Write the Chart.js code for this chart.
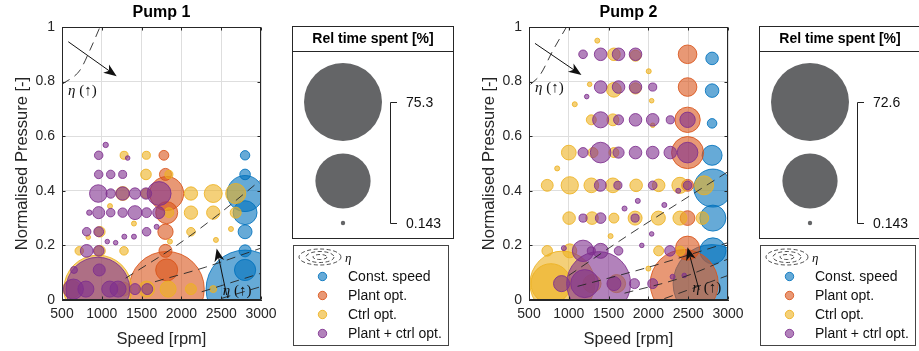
<!DOCTYPE html>
<html>
<head>
<meta charset="utf-8">
<script src="https://cdn.jsdelivr.net/npm/chart.js@4.4.1/dist/chart.umd.min.js"></script>
<style>
  html, body { margin: 0; padding: 0; background: #fff; overflow: hidden; width: 919px; height: 351px; }
  .wrap { position: absolute; top: 0; width: 460px; height: 351px; }
  #w1 { left: 0; }
  #w2 { left: 467px; }
</style>
</head>
<body>
<div class="wrap" id="w1"><canvas id="c1" width="460" height="351"></canvas></div>
<div class="wrap" id="w2"><canvas id="c2" width="460" height="351"></canvas></div>
<script>
// --- Dados: [rpm, pressão normalizada, tempo relativo %] ---
const seriesNames = ['Const. speed', 'Plant opt.', 'Ctrl opt.', 'Plant + ctrl opt.'];

const p1Const = [
  [2800, 0.04, 75.3], [2800, 0.11, 5.5], [2800, 0.18, 1.7], [2800, 0.25, 2.3],
  [2800, 0.32, 7.0], [2800, 0.39, 16.0], [2800, 0.46, 1.3], [2800, 0.53, 1.0]
];
const p1Plant = [
  [1780, 0.53, 1.1], [1800, 0.46, 1.7], [1815, 0.39, 14.2], [1815, 0.32, 5.9],
  [1800, 0.25, 2.8], [1800, 0.18, 2.0], [1815, 0.11, 5.9], [1815, 0.04, 70.0]
];
const p1Ctrl = [
  [1280, 0.53, 0.7], [1560, 0.53, 0.7], [1555, 0.46, 1.3], [1843, 0.46, 0.7],
  [1262, 0.39, 2.3], [1560, 0.39, 1.1], [2120, 0.39, 2.1], [2400, 0.39, 3.9], [2682, 0.39, 4.9],
  [1103, 0.344, 0.21], [1843, 0.32, 1.1], [2120, 0.32, 2.1], [2400, 0.32, 2.1], [2682, 0.32, 1.4],
  [1404, 0.28, 0.21], [830, 0.23, 0.16], [975, 0.25, 1.3], [2120, 0.25, 0.8], [2623, 0.26, 0.21],
  [1856, 0.214, 0.21], [2434, 0.22, 0.21], [717, 0.18, 0.8], [975, 0.18, 1.4], [1279, 0.18, 0.8],
  [950, 0.04, 57.0], [620, 0.04, 3.9], [1270, 0.04, 2.3], [1563, 0.04, 3.1], [1833, 0.04, 3.1],
  [2120, 0.04, 1.4], [2400, 0.04, 0.5]
];
const p1Both = [
  [1049, 0.568, 0.26], [961, 0.53, 0.8], [1325, 0.52, 0.16],
  [961, 0.46, 0.8], [1112, 0.46, 0.8], [1262, 0.46, 0.7],
  [956, 0.39, 3.7], [1112, 0.39, 1.0], [1262, 0.39, 2.1], [1417, 0.39, 1.5], [1555, 0.39, 1.5], [1720, 0.39, 7.0],
  [843, 0.32, 0.26], [961, 0.32, 1.7], [1112, 0.32, 0.8], [1262, 0.32, 1.0], [1417, 0.32, 2.3],
  [1563, 0.32, 1.1], [1715, 0.32, 1.7], [1689, 0.268, 0.21],
  [810, 0.25, 0.8], [961, 0.25, 1.1], [1283, 0.232, 0.21], [1404, 0.232, 0.21], [1563, 0.25, 0.8],
  [1069, 0.214, 0.16], [1174, 0.21, 0.16], [810, 0.18, 1.9], [961, 0.18, 1.3],
  [651, 0.11, 0.5], [968, 0.11, 1.7],
  [950, 0.04, 50.0], [643, 0.04, 4.9], [800, 0.04, 3.1], [1100, 0.04, 3.1], [1204, 0.04, 3.1],
  [1417, 0.04, 1.4], [1571, 0.04, 1.4]
];

const p2Const = [
  [2800, 0.885, 1.8], [2800, 0.767, 2.1], [2800, 0.647, 1.0], [2800, 0.53, 4.7],
  [2810, 0.41, 17.2], [2810, 0.30, 8.0], [2810, 0.18, 8.0], [2800, 0.06, 72.6]
];
const p2Plant = [
  [2492, 0.90, 4.05], [2492, 0.78, 4.05], [2492, 0.66, 7.6], [2492, 0.54, 12.2],
  [2492, 0.42, 1.6], [2492, 0.30, 2.5], [2492, 0.19, 6.8], [2450, 0.06, 55.2]
];
const p2Ctrl = [
  [1358, 0.95, 0.21], [1567, 0.90, 1.8], [1838, 0.895, 1.4], [2004, 0.838, 0.21],
  [1262, 0.79, 0.16], [1567, 0.77, 2.5], [1838, 0.775, 1.4], [1075, 0.717, 0.21], [2041, 0.73, 0.16],
  [1283, 0.66, 1.1], [1554, 0.66, 1.6], [2054, 0.64, 0.16],
  [1000, 0.54, 2.5], [1304, 0.54, 1.1], [1567, 0.54, 1.1], [854, 0.482, 0.21],
  [729, 0.42, 1.6], [1012, 0.42, 3.5], [1283, 0.42, 2.5], [1554, 0.42, 2.5], [1846, 0.42, 1.8],
  [2129, 0.42, 1.8], [2396, 0.42, 3.0], [2700, 0.42, 4.2],
  [1004, 0.30, 1.8], [1292, 0.30, 1.8], [1567, 0.30, 1.1], [1833, 0.30, 2.25], [2125, 0.30, 2.25],
  [2396, 0.30, 2.25], [2679, 0.30, 1.8], [1525, 0.234, 0.21],
  [729, 0.18, 1.25], [1012, 0.18, 2.25], [2129, 0.18, 1.1], [2400, 0.18, 0.97], [2000, 0.115, 0.21],
  [775, 0.06, 18.9], [920, 0.06, 50.4], [1292, 0.06, 3.8], [1600, 0.06, 3.8]
];
const p2Both = [
  [1179, 0.90, 0.8], [1400, 0.90, 1.8], [1625, 0.90, 1.8], [1838, 0.90, 1.8],
  [1400, 0.78, 1.8], [1625, 0.78, 1.8], [1838, 0.78, 1.8], [2054, 0.78, 0.7], [1225, 0.745, 0.16],
  [1400, 0.66, 3.0], [1625, 0.66, 1.1], [1838, 0.66, 1.8], [2054, 0.66, 1.8], [2275, 0.66, 0.7], [2492, 0.66, 2.75],
  [1179, 0.54, 1.1], [1400, 0.54, 5.0], [1625, 0.54, 1.4], [1838, 0.54, 1.8], [2054, 0.54, 1.8],
  [2275, 0.54, 1.8], [2492, 0.54, 5.0],
  [1396, 0.42, 1.6], [1617, 0.42, 0.7], [2054, 0.42, 0.8], [2375, 0.40, 0.21], [2492, 0.42, 0.8],
  [1867, 0.363, 0.21], [1700, 0.335, 0.21], [2200, 0.348, 0.21],
  [1179, 0.30, 0.7], [1400, 0.30, 1.25], [1833, 0.30, 0.7],
  [2041, 0.242, 0.16], [1917, 0.20, 0.16], [938, 0.19, 0.21],
  [1179, 0.18, 5.4], [1283, 0.18, 0.7], [1400, 0.18, 2.6], [1625, 0.18, 0.8], [2271, 0.18, 1.25],
  [909, 0.06, 3.0], [1200, 0.06, 9.3], [1375, 0.06, 48.8], [1567, 0.06, 2.25],
  [1825, 0.06, 1.1], [2054, 0.06, 1.1], [2304, 0.085, 0.21], [2450, 0.09, 0.16]
];

// curvas de rendimento (tracejadas)
const p1Contours = [
  [[500, 0.79], [726, 0.842], [852, 0.916], [977, 1.0]],
  [[1300, 0.08], [1940, 0.2], [2450, 0.31], [3000, 0.44]],
  [[1668, 0.067], [2300, 0.12], [3000, 0.19]],
  [[2255, 0.03], [3000, 0.098]],
  [[2505, 0.006], [3000, 0.049]]
];
const p2Contours = [
  [[520, 0.79], [638, 0.824], [804, 0.916], [971, 1.0]],
  [[1000, 0.09], [1760, 0.24], [2350, 0.35], [3000, 0.47]],
  [[1110, 0.05], [2000, 0.12], [3000, 0.21]],
  [[1700, 0.025], [2400, 0.08], [3000, 0.15]],
  [[2200, 0.005], [3000, 0.09]]
];

// setas [x0, y0, x1, y1] e rótulos eta [x, y]
const p1Arrows = [[579, 0.946, 1187, 0.82], [2569, 0.018, 2443, 0.189]];
const p2Arrows = [[575, 0.94, 1159, 0.824], [2637, 0.037, 2491, 0.193]];
const p1EtaLabels = [[575, 0.767], [2520, 0.032]];
const p2EtaLabels = [[575, 0.775], [2554, 0.042]];

const p1SizeTicks = [75.3, 0.143];
const p2SizeTicks = [72.6, 0.143];

// --- Estilo ---
const RMIN = 2.2, RMAX = 39;
const axisColor = '#262626';
const rgb = [[0, 114, 189], [217, 83, 25], [237, 177, 32], [126, 47, 142]];
const fill = c => `rgba(${c[0]},${c[1]},${c[2]},0.6)`;
const edge = c => `rgba(${c[0]},${c[1]},${c[2]},0.85)`;

const sizeScale = (vmin, vmax) => v => {
  const t = Math.max(0, Math.min(1, (v - vmin) / (vmax - vmin)));
  return Math.sqrt(RMIN * RMIN + (RMAX * RMAX - RMIN * RMIN) * t);
};

const drawArrow = (ctx, x0, y0, x1, y1) => {
  const ang = Math.atan2(y1 - y0, x1 - x0);
  const L = 13, W = 5;
  ctx.strokeStyle = '#111';
  ctx.lineWidth = 1;
  ctx.beginPath();
  ctx.moveTo(x0, y0);
  ctx.lineTo(x1 - Math.cos(ang) * 8, y1 - Math.sin(ang) * 8);
  ctx.stroke();
  const bx = x1 - Math.cos(ang) * L, by = y1 - Math.sin(ang) * L;
  const nx = x1 - Math.cos(ang) * L * 0.72, ny = y1 - Math.sin(ang) * L * 0.72;
  ctx.fillStyle = '#111';
  ctx.beginPath();
  ctx.moveTo(x1, y1);
  ctx.lineTo(bx + Math.sin(ang) * W, by - Math.cos(ang) * W);
  ctx.lineTo(nx, ny);
  ctx.lineTo(bx - Math.sin(ang) * W, by + Math.cos(ang) * W);
  ctx.closePath();
  ctx.fill();
};

const drawEta = (ctx, x, y, size) => {
  ctx.fillStyle = '#111';
  ctx.textAlign = 'left';
  ctx.textBaseline = 'middle';
  ctx.font = `italic ${size}px "Liberation Serif"`;
  ctx.fillText('η', x, y);
  const w = ctx.measureText('η').width;
  ctx.font = `${size}px "Liberation Serif"`;
  ctx.fillText(' (↑)', x + w, y);
};

// --- Plugin: moldura, setas, título e legendas ---
const pumpDeco = {
  id: 'pumpDeco',
  afterDatasetsDraw(chart, args, o) {
    const { ctx, chartArea: a, scales: { x, y } } = chart;
    ctx.save();
    ctx.strokeStyle = axisColor;
    ctx.lineWidth = 1;
    const L = Math.round(a.left) + 0.5, R = Math.round(a.right) - 0.5;
    const T = Math.round(a.top) + 0.5, B = Math.round(a.bottom) - 0.5;
    ctx.strokeRect(L, T, R - L, B - T);
    ctx.beginPath();
    x.ticks.forEach(t => {
      const px = Math.round(x.getPixelForValue(t.value)) + 0.5;
      ctx.moveTo(px, B); ctx.lineTo(px, B - 3);
      ctx.moveTo(px, T); ctx.lineTo(px, T + 3);
    });
    y.ticks.forEach(t => {
      const py = Math.round(y.getPixelForValue(t.value)) + 0.5;
      ctx.moveTo(L, py); ctx.lineTo(L + 3, py);
      ctx.moveTo(R, py); ctx.lineTo(R - 3, py);
    });
    ctx.stroke();

    ctx.beginPath();
    ctx.rect(a.left, a.top, a.right - a.left, a.bottom - a.top);
    ctx.clip();
    o.arrows.forEach(([x0, y0, x1, y1]) =>
      drawArrow(ctx, x.getPixelForValue(x0), y.getPixelForValue(y0), x.getPixelForValue(x1), y.getPixelForValue(y1)));
    o.etaLabels.forEach(([vx, vy]) => drawEta(ctx, x.getPixelForValue(vx), y.getPixelForValue(vy), 15));
    ctx.restore();
  },
  afterDraw(chart, args, o) {
    const { ctx, chartArea: a } = chart;
    ctx.save();
    // título
    ctx.fillStyle = '#000';
    ctx.font = 'bold 16px "Liberation Sans"';
    ctx.textAlign = 'center';
    ctx.textBaseline = 'middle';
    ctx.fillText(o.title, (a.left + a.right) / 2, 13);

    // legenda de tamanho
    const bx = 292.5, by = 26.5, bw = 161, bh = 212;
    ctx.strokeStyle = axisColor;
    ctx.lineWidth = 1;
    ctx.strokeRect(bx, by, bw, bh);
    ctx.beginPath();
    ctx.moveTo(bx, 51.5); ctx.lineTo(bx + bw, 51.5);
    ctx.stroke();
    ctx.font = 'bold 14px "Liberation Sans"';
    ctx.fillText('Rel time spent [%]', bx + bw / 2, 39.5);

    const [vmax, vmin] = o.sizeTicks;
    const size = sizeScale(vmin, vmax);
    const vals = [vmax, (vmax + vmin) / 2, vmin];
    const cys = [102, 181, 223];
    ctx.fillStyle = '#646567';
    vals.forEach((v, i) => {
      ctx.beginPath();
      ctx.arc(343, cys[i], size(v), 0, Math.PI * 2);
      ctx.fill();
    });
    ctx.strokeStyle = '#222';
    ctx.beginPath();
    ctx.moveTo(397, 102.5); ctx.lineTo(390.5, 102.5); ctx.lineTo(390.5, 223.5); ctx.lineTo(397, 223.5);
    ctx.stroke();
    ctx.fillStyle = '#111';
    ctx.font = '14px "Liberation Sans"';
    ctx.textAlign = 'left';
    ctx.fillText(String(vmax), 406, 103);
    ctx.fillText(String(vmin), 406, 224);

    // legenda das séries
    const lx = 293.5, ly = 245.5, lw = 155, lh = 100;
    ctx.strokeStyle = '#444';
    ctx.strokeRect(lx, ly, lw, lh);
    ctx.strokeStyle = '#222';
    ctx.lineWidth = 0.8;
    ctx.setLineDash([4, 2.5]);
    [[21, 8], [14, 5.5], [7, 2.5]].forEach(([rx, ry]) => {
      ctx.beginPath();
      ctx.ellipse(320, 257, rx, ry, 0, 0, Math.PI * 2);
      ctx.stroke();
    });
    ctx.setLineDash([]);
    ctx.fillStyle = '#111';
    ctx.font = 'italic 13px "Liberation Serif"';
    ctx.fillText('η', 345, 259);

    const rowY = [276.5, 295.5, 314.5, 333.5];
    ctx.font = '14px "Liberation Sans"';
    ctx.lineWidth = 1;
    seriesNames.forEach((name, i) => {
      ctx.beginPath();
      ctx.arc(322.5, rowY[i], 4.2, 0, Math.PI * 2);
      ctx.fillStyle = fill(rgb[i]);
      ctx.fill();
      ctx.strokeStyle = edge(rgb[i]);
      ctx.stroke();
      ctx.fillStyle = '#111';
      ctx.fillText(name, 348, rowY[i] + 0.5);
    });
    ctx.restore();
  }
};

// --- Montagem do gráfico ---
const makePump = (canvasId, title, series, contours, arrows, etaLabels, sizeTicks) => {
  const size = sizeScale(sizeTicks[1], sizeTicks[0]);
  const bubbleSets = series.map((pts, i) => ({
    type: 'bubble',
    label: seriesNames[i],
    data: pts.map(([x, y, v]) => ({ x, y, r: size(v) })),
    backgroundColor: fill(rgb[i]),
    borderColor: edge(rgb[i]),
    borderWidth: 1,
    order: 4 - i,
    clip: 0
  }));
  const lineSets = contours.map(pts => ({
    type: 'line',
    data: pts.map(([x, y]) => ({ x, y })),
    borderColor: '#262626',
    borderWidth: 0.9,
    borderDash: [9, 6],
    pointRadius: 0,
    cubicInterpolationMode: 'monotone',
    fill: false,
    order: 0,
    clip: 0
  }));
  const tickFont = { family: 'Liberation Sans', size: 14 };
  const titleFont = { family: 'Liberation Sans', size: 16.5 };
  return new Chart(document.getElementById(canvasId), {
    type: 'bubble',
    data: { datasets: [...lineSets, ...bubbleSets] },
    options: {
      responsive: false,
      animation: false,
      events: [],
      devicePixelRatio: 1,
      layout: { autoPadding: false, padding: { left: 0, right: 199, top: 27, bottom: 0 } },
      plugins: {
        legend: { display: false },
        tooltip: { enabled: false },
        title: { display: false },
        pumpDeco: { title, arrows, etaLabels, sizeTicks }
      },
      scales: {
        x: {
          type: 'linear', min: 500, max: 3000,
          ticks: { stepSize: 500, font: tickFont, color: axisColor, padding: 6, callback: v => String(v), maxRotation: 0 },
          grid: { color: '#dedede', drawTicks: false },
          border: { color: axisColor },
          title: { display: true, text: 'Speed [rpm]', font: titleFont, color: axisColor, padding: { top: 0, bottom: 2 } },
          afterFit: s => { s.height = 51; }
        },
        y: {
          type: 'linear', min: 0, max: 1,
          ticks: { stepSize: 0.2, font: tickFont, color: axisColor, padding: 7, callback: v => String(+v.toFixed(1)) },
          grid: { color: '#dedede', drawTicks: false },
          border: { color: axisColor },
          title: { display: true, text: 'Normalised Pressure [-]', font: titleFont, color: axisColor, padding: { top: 13, bottom: 0 } },
          afterFit: s => { s.width = 62; }
        }
      }
    },
    plugins: [pumpDeco]
  });
};

makePump('c1', 'Pump 1', [p1Const, p1Plant, p1Ctrl, p1Both], p1Contours, p1Arrows, p1EtaLabels, p1SizeTicks);
makePump('c2', 'Pump 2', [p2Const, p2Plant, p2Ctrl, p2Both], p2Contours, p2Arrows, p2EtaLabels, p2SizeTicks);
</script>
</body>
</html>
